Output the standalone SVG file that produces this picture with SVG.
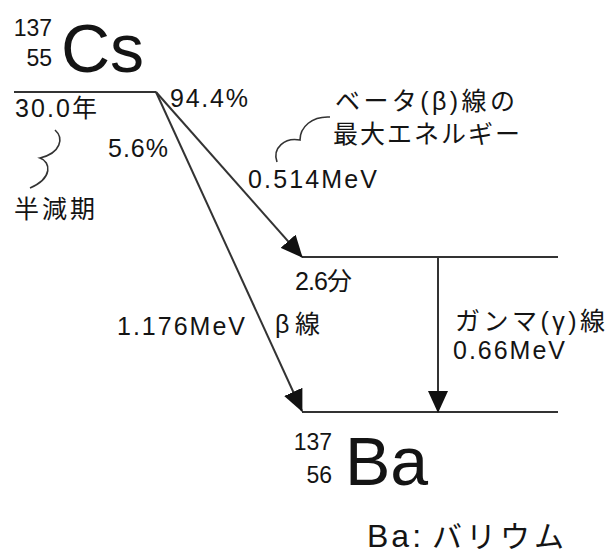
<svg xmlns="http://www.w3.org/2000/svg" width="606" height="556" viewBox="0 0 606 556">
<style>
text{font-family:"Liberation Sans","Noto Sans CJK JP",Arial,sans-serif;fill:#141414}
.t{font-size:25px}
.j{font-size:25px}
.s{font-size:23px}
.big{font-size:68px}
.ln{stroke:#333;stroke-width:2;fill:none}
.br{stroke:#333;stroke-width:1.6;fill:none}
</style>
<defs>
<marker id="ah" viewBox="0 0 22 20" refX="21" refY="10" markerWidth="22" markerHeight="20" markerUnits="userSpaceOnUse" orient="auto">
<path d="M0,0 L22,10 L0,20 Z" fill="#111"/>
</marker>
</defs>
<rect width="606" height="556" fill="#fff"/>

<g id="cs">
<text class="s" x="52" y="36" text-anchor="end">137</text>
<text class="s" x="52" y="66" text-anchor="end">55</text>
<text class="big" x="61" y="72">Cs</text>
<line class="ln" x1="14" y1="92" x2="156" y2="92"/>
<text class="t" x="170" y="107" textLength="78">94.4%</text>
<text class="t" x="15" y="117" textLength="82">30.0年</text>
<text class="t" x="108" y="157" textLength="60">5.6%</text>
<path class="br" d="M55,130 C64,138 61,153 40,158 C51,162 53,178 30,188"/>
<text class="j" x="14" y="218" textLength="81">半減期</text>
</g>

<g id="level2">
<line class="ln" x1="302" y1="257" x2="558" y2="257"/>
<text class="t" x="295" y="290" textLength="57">2.6分</text>
</g>

<g id="ba">
<line class="ln" x1="302" y1="412" x2="558" y2="412"/>
<text class="s" x="332" y="450" text-anchor="end">137</text>
<text class="s" x="332" y="483" text-anchor="end">56</text>
<text class="big" x="345" y="485">Ba</text>
<text x="367" y="547" style="font-size:32px;letter-spacing:3px">Ba:</text>
<text x="432" y="547" style="font-size:30px;letter-spacing:4px">バリウム</text>
</g>

<g id="labels">
<text class="j" x="335" y="110" textLength="180">ベータ(β)線の</text>
<text class="j" x="333" y="143" textLength="187">最大エネルギー</text>
<path class="br" d="M277,162 C272,148 285,137 300,140 C300,127 312,116 330,117"/>
<text class="t" x="248" y="188" textLength="129">0.514MeV</text>
<text class="t" x="117" y="335" textLength="128">1.176MeV</text>
<text class="j" x="275" y="333" textLength="45">β線</text>
<text class="j" x="455" y="330" textLength="150">ガンマ(γ)線</text>
<text class="t" x="453" y="359" textLength="112">0.66MeV</text>
</g>

<g id="connectors">
<line class="ln" x1="156" y1="92" x2="302" y2="257" marker-end="url(#ah)"/>
<line class="ln" x1="156" y1="92" x2="302" y2="411" marker-end="url(#ah)"/>
<line class="ln" x1="438" y1="257" x2="438" y2="412" marker-end="url(#ah)"/>
</g>
</svg>
